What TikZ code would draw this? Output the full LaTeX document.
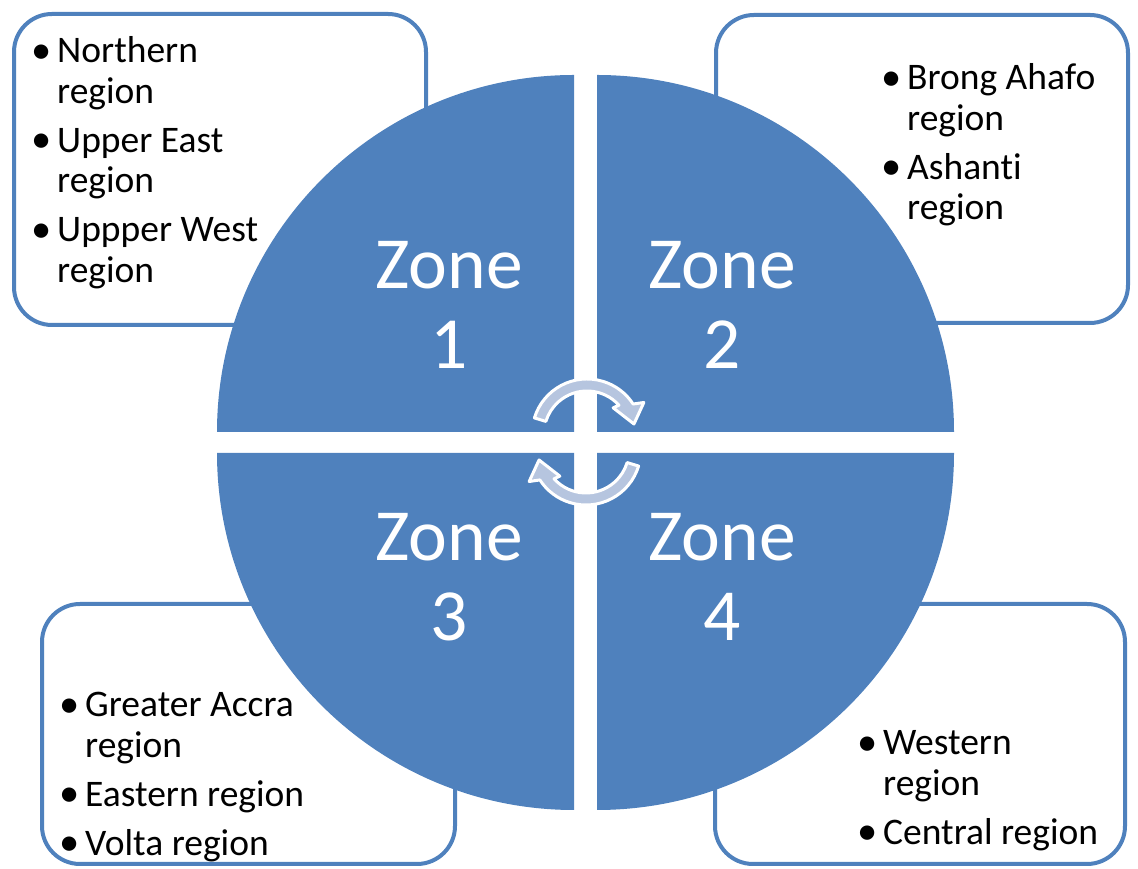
\documentclass[tikz,border=0pt]{standalone}
\usepackage{fontspec}
\setmainfont{Carlito}[Ligatures=NoCommon]
\usetikzlibrary{calc}
\definecolor{zoneblue}{RGB}{79,129,189}
\definecolor{arrowfill}{RGB}{182,197,223}
\newcommand{\regbullet}{\makebox[25pt][l]{\hspace{-1pt}\raisebox{-0.5pt}{\scalebox{1.08}{\textbullet}}}}
\tikzset{
    zone/.style={
        fill=zoneblue,
        draw=none,
    },
    zone-label/.style={
        text=white,
        align=center,
        inner sep=0pt,
        font=\fontsize{73.5}{80}\selectfont,
    },
    region-box/.style={
        rectangle,
        draw=zoneblue,
        line width=4pt,
        fill=white,
        rounded corners=38pt,
        inner sep=0pt,
    },
    region-list/.style={
        anchor=base west,
        inner sep=0pt,
        font=\fontsize{37.5}{40.5}\selectfont,
    },
    cycle-arrow/.style={
        draw=white,
        line width=3pt,
        fill=arrowfill,
        line join=round,
    },
}

\begin{document}
\begin{tikzpicture}[x=1pt,y=1pt]
    \useasboundingbox (0,0) rectangle (1138,869);
    % boxes behind the circle
    \node [region-box, minimum width=412pt, minimum height=311pt] (box1) at (220,699.5) {};
    \node [region-box, minimum width=412pt, minimum height=308pt] (box2) at (922,700) {};
    \node [region-box, minimum width=413pt, minimum height=260pt] (box3) at (248.5,135) {};
    \node [region-box, minimum width=410pt, minimum height=260pt] (box4) at (920,135) {};
    % the four quarters
    \fill [zone] (574,437) -- (217,437) arc[start angle=180, end angle=90, radius=357] -- cycle;
    \fill [zone] (597,437) -- (597,794) arc[start angle=90, end angle=0, radius=357] -- cycle;
    \fill [zone] (574,416) -- (217,416) arc[start angle=180, end angle=270, radius=357] -- cycle;
    \fill [zone] (597,416) -- (597,59) arc[start angle=270, end angle=360, radius=357] -- cycle;
    \node [zone-label] (zone1) at (449,564) {Zone\\1};
    \node [zone-label] (zone2) at (722,564) {Zone\\2};
    \node [zone-label] (zone3) at (449,292) {Zone\\3};
    \node [zone-label] (zone4) at (722,292) {Zone\\4};
    % region lists
    \node [region-list] (list1) at (32,806) {\begin{tabular}[t]{@{}l@{}l@{}}
        \regbullet & Northern\\ & region\\[8.5pt]
        \regbullet & Upper East\\ & region\\[8.5pt]
        \regbullet & Uppper West\\ & region
    \end{tabular}};
    \node [region-list] (list2) at (882,779) {\begin{tabular}[t]{@{}l@{}l@{}}
        \regbullet & Brong Ahafo\\ & region\\[8.5pt]
        \regbullet & Ashanti\\ & region
    \end{tabular}};
    \node [region-list] (list3) at (60,152) {\begin{tabular}[t]{@{}l@{}l@{}}
        \regbullet & Greater Accra\\ & region\\[8.5pt]
        \regbullet & Eastern region\\[8.5pt]
        \regbullet & Volta region
    \end{tabular}};
    \node [region-list] (list4) at (858,114) {\begin{tabular}[t]{@{}l@{}l@{}}
        \regbullet & Western\\ & region\\[8.5pt]
        \regbullet & Central region
    \end{tabular}};
    % turning arrows in the middle
    \coordinate (turn1) at (587,435);
    \coordinate (turn2) at (586,419);
    \draw [cycle-arrow] ($(turn1)+(163:55)$) arc[start angle=163, end angle=33, radius=55]
        -- ($(turn1)+(29:65)$) -- ($(turn1)+(12:48)$) -- ($(turn1)+(45:37)$)
        -- ($(turn1)+(42:43)$) arc[start angle=42, end angle=163, radius=43] -- cycle;
    \draw [cycle-arrow] ($(turn2)+(343:55)$) arc[start angle=343, end angle=213, radius=55]
        -- ($(turn2)+(209:65)$) -- ($(turn2)+(192:48)$) -- ($(turn2)+(225:37)$)
        -- ($(turn2)+(222:43)$) arc[start angle=222, end angle=343, radius=43] -- cycle;
\end{tikzpicture}
\end{document}
